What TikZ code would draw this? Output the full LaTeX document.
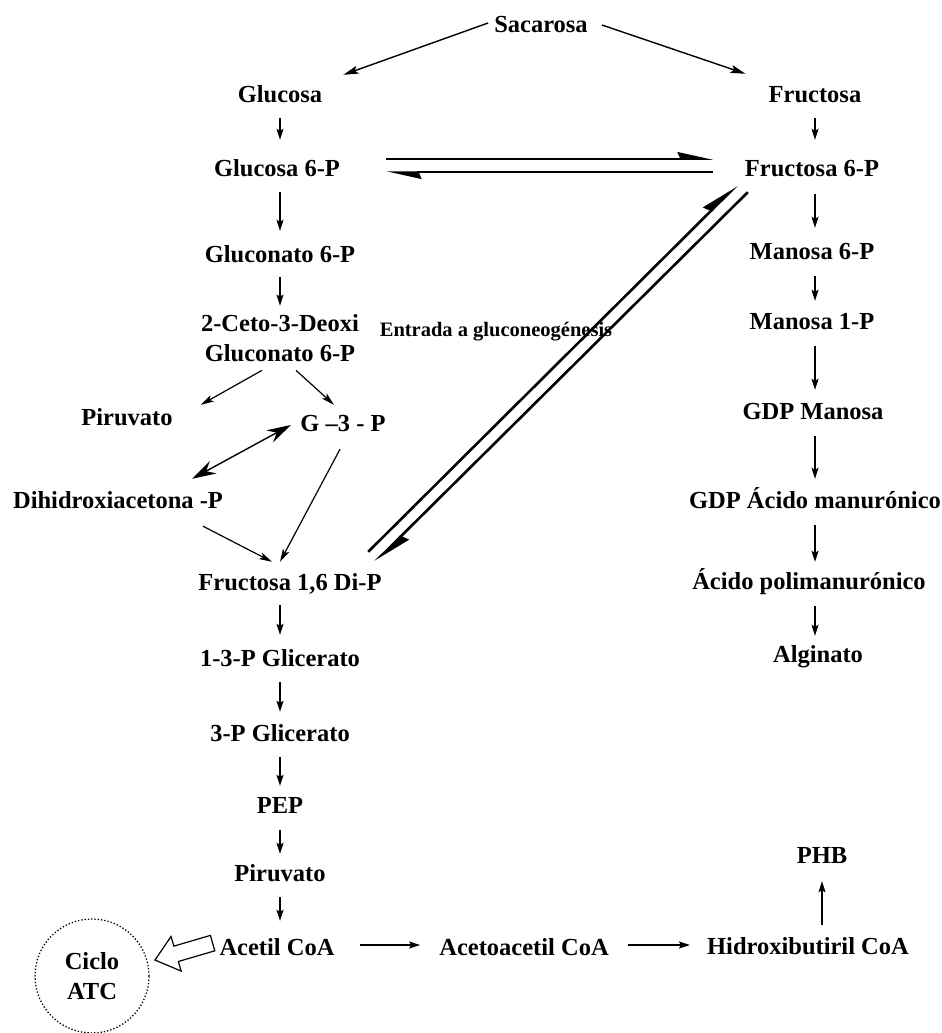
\documentclass[tikz,border=0pt]{standalone}
\usepackage{fontspec}
\setmainfont{Liberation Serif}
\usetikzlibrary{arrows.meta,calc}
\begin{document}
\begin{tikzpicture}[x=1pt,y=-1pt,
  lbl/.style={font=\bfseries\fontsize{24.5}{30}\selectfont, inner sep=3pt, text height=16pt, text depth=4pt},
  lbltwo/.style={font=\bfseries\fontsize{24.5}{30}\selectfont, inner sep=3pt, align=center},
  smalllbl/.style={font=\bfseries\fontsize{20.5}{24}\selectfont, inner sep=3pt},
  arr/.style={line width=1.2pt, -{Stealth[length=11pt,width=7pt,inset=2pt]}},
  arrbig/.style={line width=1.4pt, -{Stealth[length=15pt,width=8pt,inset=3pt]}},
  arrmid/.style={line width=1.2pt, -{Stealth[length=13pt,width=7pt,inset=3pt]}},
  dbl/.style={line width=1.4pt, {Stealth[length=24pt,width=14pt,inset=8pt]}-{Stealth[length=24pt,width=14pt,inset=8pt]}},
  harp/.style={line width=1.5pt, -{Stealth[harpoon,length=32pt,width=14pt,inset=3pt]}},
  harpthick/.style={line width=2.6pt, -{Stealth[harpoon,length=34pt,width=16pt,inset=3pt]}},
  cyc/.style={circle, draw, dotted, line width=1.3pt, minimum size=114pt, align=center, inner sep=0pt, font=\bfseries\fontsize{24.5}{30}\selectfont},
  openarr/.style={draw, line width=1.2pt, fill=white}
]
\useasboundingbox (0,0) rectangle (942,1033);

% left column
\node[lbl] (sac) at (541,27) {Sacarosa};
\node[lbl] (glc) at (280,96) {Glucosa};
\node[lbl] (g6p) at (277,170) {Glucosa 6-P};
\node[lbl] (gln) at (280,256) {Gluconato 6-P};
\node[lbltwo] (ceto) at (280,338.5) {2-Ceto-3-Deoxi\\Gluconato 6-P};
\node[lbl] (pir1) at (127,419) {Piruvato};
\node[lbl] (g3p) at (343,425) {G –3 - P};
\node[lbl] (dhap) at (118,502) {Dihidroxiacetona -P};
\node[lbl] (f16) at (290,584) {Fructosa 1,6 Di-P};
\node[lbl] (g13) at (280,660) {1-3-P Glicerato};
\node[lbl] (g3) at (280,735) {3-P Glicerato};
\node[lbl] (pep) at (280,807) {PEP};
\node[lbl] (pir2) at (280,875) {Piruvato};
\node[lbl] (acc) at (277,949) {Acetil CoA};
\node[lbl] (aac) at (524,949) {Acetoacetil CoA};
\node[lbl] (hbc) at (808,948) {Hidroxibutiril CoA};
\node[lbl] (phb) at (822,857) {PHB};
\node[cyc] (atc) at (92,976) {Ciclo\\ATC};

% right column
\node[lbl] (fru) at (815,96) {Fructosa};
\node[lbl] (f6p) at (812,170) {Fructosa 6-P};
\node[lbl] (m6p) at (812,253) {Manosa 6-P};
\node[lbl] (m1p) at (812,323) {Manosa 1-P};
\node[lbl] (gdpm) at (813,413) {GDP Manosa};
\node[lbl] (gdpa) at (815,502) {GDP Ácido manurónico};
\node[lbl] (apm) at (809,583) {Ácido polimanurónico};
\node[lbl] (alg) at (818,656) {Alginato};

\node[smalllbl] (ent) at (496,332) {Entrada a gluconeogénesis};

% Sacarosa branches
\draw[arrbig] ([shift={(-3,-4)}]sac.west) -- ([shift={(18,-8)}]glc.north east);
\draw[arrbig] ([shift={(11,-2)}]sac.east) -- ([shift={(-20,-9)}]fru.north west);

% left column vertical arrows
\draw[arr, shorten <=9pt, shorten >=17pt] (glc.south) -- (glc.south |- g6p.north);
\draw[arr, shorten <=9pt, shorten >=12pt] (glc.south |- g6p.south) -- (glc.south |- gln.north);
\draw[arr, shorten <=8pt, shorten >=6pt] (gln.south) -- (gln.south |- ceto.north);
\draw[arr, shorten <=8pt, shorten >=12pt] (g13.north |- f16.south) -- (g13.north);
\draw[arr, shorten <=9pt, shorten >=10pt] (g13.south) -- (g13.south |- g3.north);
\draw[arr, shorten <=9pt, shorten >=8pt] (g3.south) -- (g3.south |- pep.north);
\draw[arr, shorten <=10pt, shorten >=8pt] (pep.south) -- (pep.south |- pir2.north);
\draw[arr, shorten <=9pt, shorten >=15pt] (pir2.south) -- (pir2.south |- acc.north);

% branches from 2-Ceto
\draw[arrmid] ([shift={(-18,5)}]ceto.south) -- ([shift={(25,-1)}]pir1.north east);
\draw[arrmid] ([shift={(16,5)}]ceto.south) -- ([shift={(-9,-7)}]g3p.north);
\draw[dbl] ([shift={(-6.5,0)}]g3p.west) -- ([shift={(74,-10)}]dhap.north);
\draw[arrmid] ([shift={(-3,11)}]g3p.south) -- ([shift={(-10,-9)}]f16.north);
\draw[arrmid] ([shift={(85,11)}]dhap.south) -- ([shift={(-18,-9)}]f16.north);

% G6P <-> F6P
\draw[harp] ([shift={(43,-11)}]g6p.east) -- ([shift={(-29,-11)}]f6p.west);
\draw[harp] ([shift={(-29,2)}]f6p.west) -- ([shift={(43,2)}]g6p.east);

% F16 <-> F6P (gluconeogenesis)
\draw[harpthick] ([shift={(-16.5,-19)}]f16.north east) -- ([shift={(-5,2)}]f6p.south west);
\draw[harpthick] ([shift={(6,9)}]f6p.south west) -- ([shift={(-9.5,-9)}]f16.north east);

% right column vertical arrows
\draw[arr, shorten <=9pt, shorten >=17pt] (fru.south) -- (fru.south |- f6p.north);
\draw[arr, shorten <=11pt, shorten >=12pt] (fru.south |- f6p.south) -- (fru.south |- m6p.north);
\draw[arr, shorten <=10pt, shorten >=9pt] (fru.south |- m6p.south) -- (fru.south |- m1p.north);
\draw[arr, shorten <=10pt, shorten >=10pt] (fru.south |- m1p.south) -- (fru.south |- gdpm.north);
\draw[arr, shorten <=10pt, shorten >=10pt] (fru.south |- gdpm.south) -- (fru.south |- gdpa.north);
\draw[arr, shorten <=10pt, shorten >=8pt] (fru.south |- gdpa.south) -- (fru.south |- apm.north);
\draw[arr, shorten <=10pt, shorten >=7pt] (fru.south |- apm.south) -- (fru.south |- alg.north);

% bottom row
\draw[arr, shorten <=22pt, shorten >=16pt] ([shift={(0,-4)}]acc.east) -- ([shift={(0,-4)}]aac.west);
\draw[arr, shorten <=16pt, shorten >=14pt] ([shift={(0,-4)}]aac.east) -- ([shift={(0,-3)}]hbc.west);
\draw[arr, shorten <=10pt, shorten >=11pt] (phb.south |- hbc.north) -- (phb.south);

% open arrow Acetil CoA -> Ciclo ATC
\draw[openarr] (155,960) -- (181.2,971.1) -- (178.3,961.5) -- (214.8,950.8)
  -- (210.4,935.4) -- (173.9,946.1) -- (171.0,936.5) -- cycle;
\end{tikzpicture}
\end{document}
